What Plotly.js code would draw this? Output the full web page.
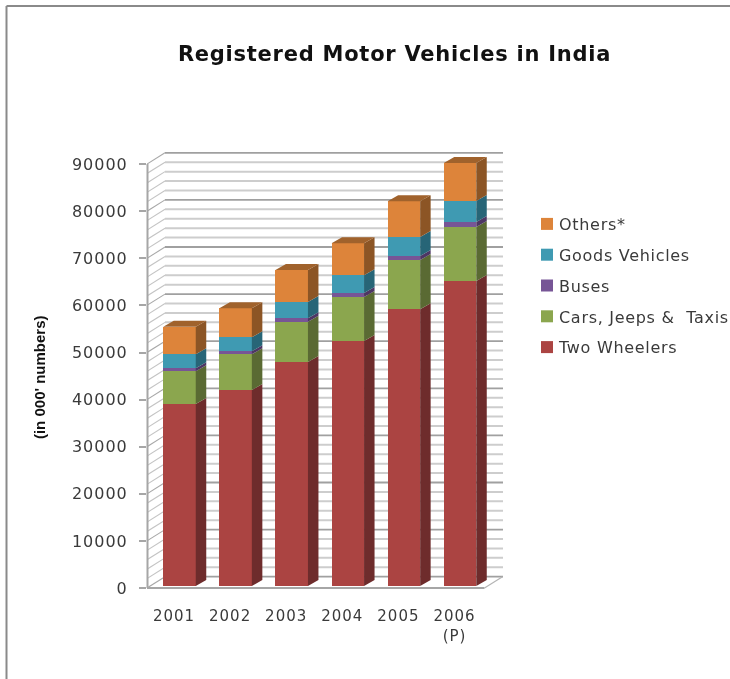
<!DOCTYPE html>
<html><head><meta charset="utf-8">
<script src="https://cdn.plot.ly/plotly-3.0.1.min.js"></script>
<style>
html,body{margin:0;padding:0;background:#fff;overflow:hidden}
#chart{width:730px;height:679px;filter:blur(0.35px)}
.legend .legendtext{transform:translateX(-8px);letter-spacing:0.7px}
.xtick text,.ytick text{letter-spacing:1px}
.gtitle{letter-spacing:0.75px}
</style></head><body><div id="chart"></div>
<script>
const years=['2001','2002','2003','2004','2005','2006<br>(P)'];
const twoWheelers=[38640,41610,47560,52020,58750,64750];
const carsJeepsTaxis=[6940,7580,8560,9340,10470,11460];
const buses=[640,640,720,850,850,1060];
const goodsVehicles=[2970,2970,3460,3760,4030,4460];
const others=[5860,6160,6790,6790,7580,8070];
const seriesNames=['Two Wheelers','Cars, Jeeps &\u00a0\u00a0Taxis','Buses','Goods Vehicles','Others*'];
const seriesValues=[twoWheelers,carsJeepsTaxis,buses,goodsVehicles,others];
const frontColors=['#ab4442','#8ba64e','#775596','#3f9ab2','#dd843a'];
const sideColors=['#6e2c2c','#5a6a33','#4d3664','#276577','#8c5525'];
const topColor='#a0622c';
const yTicks=[0,10000,20000,30000,40000,50000,60000,70000,80000,90000];

// geometry of the pseudo-3D box, in plot units
const L=147,R=505,T=150,B=592,pxPerX=56.1,pxPerY=0.00471;
const xOfPx=p=>(p-179.5)/pxPerX;
const barW=32.5/pxPerX, barDX=10.5/pxPerX, barDY=6/pxPerY;
const wallDX=18/pxPerX, wallDY=11.3/pxPerY;
const front0=xOfPx(L), frontEnd=xOfPx(484.5);
const W=R-L,H=B-T;
const fx=p=>(p-L)/W, fy=p=>(B-p)/H;

const traces=[];
const xs=years.map((_,i)=>i);
const cum=years.map(()=>0);
seriesValues.forEach((vals,s)=>{
  traces.push({type:'bar',name:seriesNames[s],x:xs,y:vals,width:barW,yaxis:'y2',legendgroup:'g'+s,legendrank:1000-s,
    marker:{color:frontColors[s],line:{width:0}},hoverinfo:'skip'});
});
seriesValues.forEach((vals,s)=>{
  const px=[],py=[];
  vals.forEach((v,i)=>{
    const lo=cum[i],hi=cum[i]+v,r=i+barW/2;
    px.push(r,r+barDX,r+barDX,r,r,null);
    py.push(lo,lo+barDY,hi+barDY,hi,lo,null);
    cum[i]=hi;
  });
  traces.push({type:'scatter',mode:'lines',x:px,y:py,yaxis:'y2',fill:'toself',fillcolor:sideColors[s],
    line:{width:0,color:sideColors[s]},showlegend:false,hoverinfo:'skip'});
});
{
  const px=[],py=[];
  cum.forEach((t,i)=>{
    const l=i-barW/2,r=i+barW/2;
    px.push(l,r,r+barDX,l+barDX,l,null);
    py.push(t,t,t+barDY,t+barDY,t,null);
  });
  traces.push({type:'scatter',mode:'lines',x:px,y:py,yaxis:'y2',fill:'toself',fillcolor:topColor,
    line:{width:0,color:topColor},showlegend:false,hoverinfo:'skip'});
}

const shapes=[];
const seg=(x0,y0,x1,y1,color,width)=>shapes.push({type:'line',xref:'x',yref:'y',layer:'below',x0,y0,x1,y1,line:{color,width}});
for(let v=0;v<=90000;v+=2000){
  const major=v%10000===0, c=major?'#a0a0a0':'#cdcdcd', w=major?1.8:2;
  seg(front0+wallDX,v+wallDY,xOfPx(503),v+wallDY,c,w);
  seg(front0,v,front0+wallDX,v+wallDY,major?'#a8a8a8':'#c4c4c4',1.1);
}
seg(front0,0,frontEnd,0,'#a6a6a6',2.2);
seg(frontEnd,0,frontEnd+wallDX,wallDY,'#b4b4b4',1.2);
shapes.push({type:'line',xref:'paper',yref:'y',layer:'above',x0:fx(147.5),x1:fx(147.5),y0:0,y1:90000,line:{color:'#a6a6a6',width:2}});

// outer frame of the picture
[[6.5,6,730,6],[6.5,6,6.5,679]].forEach(a=>shapes.push({type:'line',xref:'paper',yref:'paper',layer:'below',
  x0:fx(a[0]),y0:fy(a[1]),x1:fx(a[2]),y1:fy(a[3]),line:{color:'#8a8a8a',width:2}}));

const layout={
  width:730,height:679,autosize:false,paper_bgcolor:'#fff',plot_bgcolor:'rgba(0,0,0,0)',
  margin:{l:L,r:730-R,t:T,b:679-B,pad:0,autoexpand:false},
  barmode:'stack',
  font:{family:'"DejaVu Sans",sans-serif',color:'#3a3a3a'},
  title:{text:'<b>Registered Motor Vehicles in India</b>',x:394.5/730,xanchor:'center',xref:'container',y:1-54/679,yref:'container',yanchor:'middle',
    font:{family:'"DejaVu Sans",sans-serif',size:21,color:'#111'}},
  xaxis:{range:[xOfPx(L),xOfPx(R)],tickmode:'array',tickvals:xs.map(i=>i-0.098),ticktext:years,showgrid:false,zeroline:false,showline:false,
    ticks:'',ticklabelstandoff:13,tickangle:0,tickfont:{size:15,color:'#3a3a3a'}},
  yaxis:{range:[-4/pxPerY,(588-T)/pxPerY],tickmode:'array',tickvals:yTicks,ticktext:yTicks.map(String),showgrid:false,zeroline:false,showline:false,
    ticks:'outside',ticklen:7,tickwidth:2,tickcolor:'#a6a6a6',ticklabelstandoff:8,tickfont:{size:16,color:'#3a3a3a'},
    title:{text:"<b>(in 000' numbers)\u00a0\u00a0\u00a0</b>",standoff:22,font:{family:'"Liberation Sans Narrow","Liberation Sans",sans-serif',size:15,color:'#111'}}},
  yaxis2:{overlaying:'y',visible:false,range:[-6/pxPerY,(586-T)/pxPerY]},
  legend:{x:fx(527),xanchor:'left',y:fy(207),yanchor:'top',traceorder:'grouped',tracegroupgap:7,
    bgcolor:'rgba(0,0,0,0)',font:{size:16,color:'#3a3a3a'},itemclick:false,itemdoubleclick:false},
  shapes
};
Plotly.newPlot('chart',traces,layout,{displayModeBar:false,staticPlot:true});
</script></body></html>
